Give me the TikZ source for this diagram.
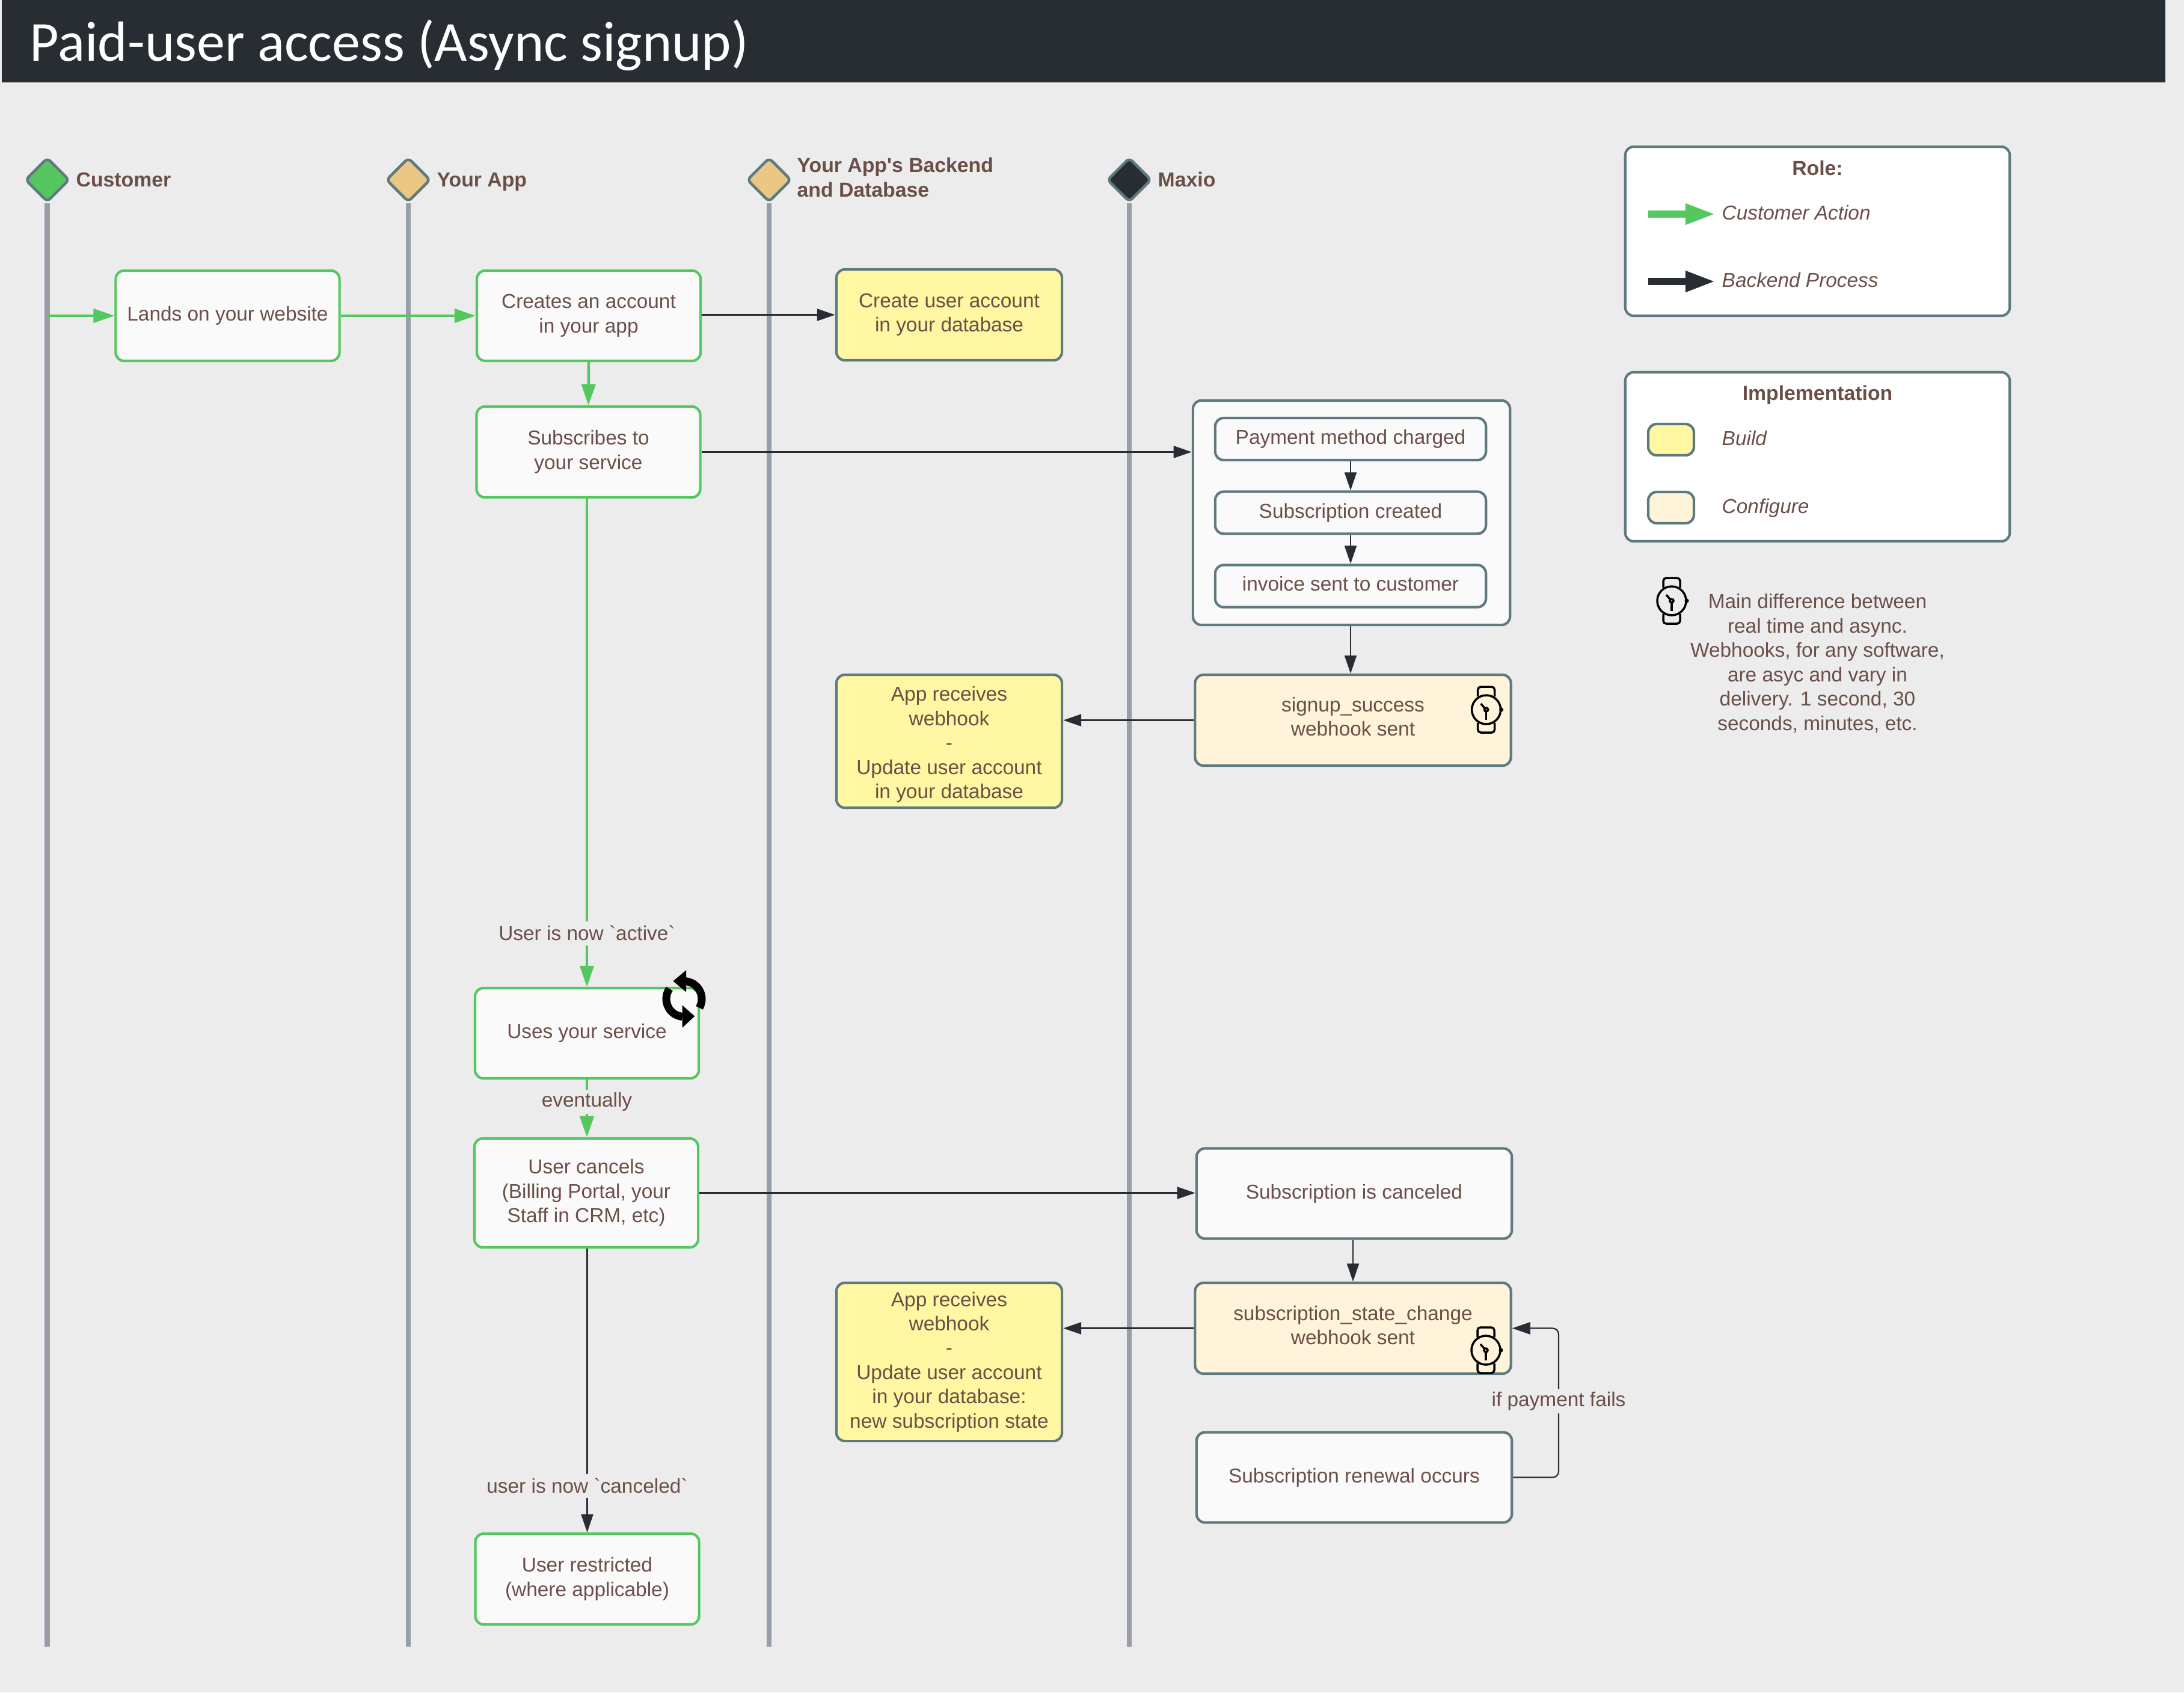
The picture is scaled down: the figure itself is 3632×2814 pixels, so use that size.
\documentclass[tikz,border=0pt]{standalone}
\usepackage{fontspec}
\setmainfont{Liberation Sans}
\newfontfamily\titlefont{Carlito}
\usetikzlibrary{arrows.meta,shapes.geometric}
\definecolor{pagegrey}{HTML}{ECECEC}
\definecolor{barblack}{HTML}{282C33}
\definecolor{inkbrown}{HTML}{6A4F47}
\definecolor{slateedge}{HTML}{5E7A7E}
\definecolor{actiongreen}{HTML}{54C75F}
\definecolor{lanegrey}{HTML}{979EA8}
\definecolor{appsand}{HTML}{EAC785}
\definecolor{buildyellow}{HTML}{FFF7A1}
\definecolor{configcream}{HTML}{FFF3D9}
\definecolor{paperwhite}{HTML}{FAFAFA}
\newcommand{\watchicon}[1]{
	\begin{scope}[shift={(#1)}]
		\draw [iconline,rounded corners=.05cm] (-14,22) -- (-14,38) -- (14,38) -- (14,22);
		\draw [iconline,rounded corners=.05cm] (-14,-22) -- (-14,-38) -- (14,-38) -- (14,-22);
		\draw [iconline] (0,0) circle (24);
		\fill [black] (25,0) circle (3.5);
		\draw [iconline] (0,0) circle (3);
		\draw [iconline] (0,-3) -- (0,-17);
		\draw [iconline] (-2,2) -- (-9,10);
	\end{scope}
}
\newcommand{\syncicon}[1]{
	\begin{scope}[shift={(#1)}]
		\draw [black,line width=.13cm] (-30:29.5) arc (-30:85:29.5);
		\fill [black] (-18,29.7) -- (3.7,48) -- (3.7,11.3);
		\draw [black,line width=.13cm] (145:29.5) arc (145:265:29.5);
		\fill [black] (17.7,-28.7) -- (-3,-10.3) -- (-3,-48);
	\end{scope}
}
\begin{document}
\begin{tikzpicture}[x=0.01cm,y=0.01cm]
	\tikzstyle{every node}+=[inner sep=0pt,text=inkbrown,font=\fontsize{9.5}{11.5}\selectfont,align=center]
	\tikzstyle{iconline}=[black,line width=.035cm]
	\tikzstyle{slatebox}=[draw=slateedge,line width=.042cm,rounded corners=.14cm,fill=paperwhite]
	\tikzstyle{actionbox}=[slatebox,draw=actiongreen,minimum width=3.72cm,minimum height=1.5cm]
	\tikzstyle{buildbox}=[slatebox,fill=buildyellow,minimum width=3.75cm]
	\tikzstyle{configbox}=[slatebox,fill=configcream,minimum width=5.25cm,minimum height=1.51cm]
	\tikzstyle{processbox}=[slatebox,minimum width=5.24cm,minimum height=1.5cm]
	\tikzstyle{stepbox}=[slatebox,minimum width=4.5cm,minimum height=.7cm]
	\tikzstyle{legendbox}=[slatebox,fill=white,minimum width=6.39cm,minimum height=2.81cm]
	\tikzstyle{swatch}=[slatebox,minimum width=.76cm,minimum height=.52cm]
	\tikzstyle{lanehead}=[diamond,aspect=1,draw=slateedge,line width=.045cm,rounded corners=.07cm,minimum width=.74cm,minimum height=.74cm]
	\tikzstyle{lanelabel}=[anchor=base west,font=\fontsize{9.6}{11.5}\selectfont\bfseries,align=left]
	\tikzstyle{legendlabel}=[anchor=west,font=\fontsize{9.5}{11.5}\selectfont\itshape]
	\tikzstyle{legendtitle}=[font=\fontsize{9.6}{11.5}\selectfont\bfseries]
	\tikzstyle{lane}=[lanegrey,line width=.085cm]
	\tikzstyle{action}=[actiongreen,line width=.045cm,-{Triangle[length=.35cm,width=.23cm]}]
	\tikzstyle{process}=[barblack,line width=.022cm,-{Triangle[length=.3cm,width=.2cm]}]
	\tikzstyle{edgelabel}=[fill=pagegrey,minimum height=.4cm]
	\fill [pagegrey] (0,0) rectangle (3632,-2814);
	\useasboundingbox (0,0) rectangle (3632,-2814);
	\fill [barblack] (3,0) rectangle (3601,-137);
	\node [anchor=west,text=white,font=\titlefont\fontsize{26.75}{30}\selectfont] (title) at (49,-75) {Paid-user access (Async signup)};

	\node [lanehead,fill=actiongreen] (customer) at (78.7,-299) {};
	\node [lanehead,fill=appsand] (yourapp) at (679,-299) {};
	\node [lanehead,fill=appsand] (backend) at (1279,-299) {};
	\node [lanehead,fill=barblack] (maxio) at (1878,-299) {};
	\coordinate (customerend) at (78.7,-2738);
	\coordinate (yourappend) at (679,-2738);
	\coordinate (backendend) at (1279,-2738);
	\coordinate (maxioend) at (1878,-2738);
	\draw [lane] (customer.south) -- (customerend);
	\draw [lane] (yourapp.south) -- (yourappend);
	\draw [lane] (backend.south) -- (backendend);
	\draw [lane] (maxio.south) -- (maxioend);
	\node [lanelabel] (customerlabel) at (126,-310) {Customer};
	\node [lanelabel] (yourapplabel) at (726,-310) {Your App};
	\node [lanelabel,anchor=west] (backendlabel) at (1325,-295) {Your App\textquotesingle s Backend\\and Database};
	\node [lanelabel] (maxiolabel) at (1925,-310) {Maxio};

	\node [actionbox] (lands) at (378.5,-525) {Lands on your website};
	\node [actionbox] (creates) at (979,-525) {Creates an account\\in your app};
	\node [actionbox,minimum height=1.51cm] (subscribes) at (978.5,-751.5) {Subscribes to\\your service};
	\node [actionbox] (uses) at (976,-1718) {Uses your service};
	\node [actionbox,minimum height=1.81cm] (cancels) at (975,-1983.5) {User cancels\\(Billing Portal, your\\Staff in CRM, etc)};
	\node [actionbox,minimum height=1.51cm] (restricted) at (976.5,-2625.5) {User restricted\\(where applicable)};

	\node [buildbox,minimum height=1.51cm] (createuser) at (1578.5,-523.5) {Create user account\\in your database};
	\node [buildbox,minimum height=2.21cm,text height=1.97cm] (webhookone) at (1578.5,-1232.5) {App receives\\webhook\\-\\Update user account\\in your database};
	\node [buildbox,minimum height=2.63cm] (webhooktwo) at (1578.5,-2264.5) {App receives\\webhook\\-\\Update user account\\in your database:\\new subscription state};

	\node [slatebox,minimum width=5.27cm,minimum height=3.73cm] (charging) at (2247.5,-852.5) {};
	\node [stepbox] (payment) at (2246,-730) {Payment method charged};
	\node [stepbox] (created) at (2246,-852.5) {Subscription created};
	\node [stepbox,text depth=.09cm] (invoice) at (2246,-974.5) {invoice sent to customer};
	\node [configbox,text depth=.12cm] (signup) at (2250,-1197.5) {signup\_success\\webhook sent};
	\node [processbox] (canceled) at (2252,-1984.5) {Subscription is canceled};
	\node [configbox,text depth=.1cm] (statechange) at (2250,-2208.5) {subscription\_state\_change\\webhook sent};
	\node [processbox] (renewal) at (2252,-2456.5) {Subscription renewal occurs};

	\draw [action] (customer.south |- lands.west) -- (lands.west);
	\draw [action] (lands.east) -- (creates.west);
	\draw [action] (creates.south) -- (subscribes.north);
	\draw [action] (subscribes.south -| uses.north) -- node [edgelabel,pos=.89] (activelabel) {User is now \textasciigrave active\textasciigrave} (uses.north);
	\draw [action] (uses.south) -- node [edgelabel,pos=.38] (eventuallylabel) {eventually} (uses.south |- cancels.north);
	\draw [process] (creates.east |- createuser.west) -- (createuser.west);
	\draw [process] (subscribes.east) -- (subscribes.east -| charging.west);
	\draw [process] (payment.south) -- (created.north);
	\draw [process] (created.south) -- (invoice.north);
	\draw [process] (created.south |- charging.south) -- (created.south |- signup.north);
	\draw [process] (signup.west) -- (signup.west -| webhookone.east);
	\draw [process] (cancels.east) -- (cancels.east -| canceled.west);
	\draw [process] (cancels.south -| restricted.north) -- node [edgelabel,pos=.836] (canceledlabel) {user is now \textasciigrave canceled\textasciigrave} (restricted.north);
	\draw [process] (statechange.north |- canceled.south) -- (statechange.north);
	\draw [process] (statechange.west) -- (statechange.west -| webhooktwo.east);
	\coordinate (loopturn) at (2592,-2330);
	\draw [process,rounded corners=.1cm] (renewal.east) -- (loopturn |- renewal.east) -- node [edgelabel,pos=.51] (failslabel) {if payment fails} (loopturn |- statechange.east) -- (statechange.east);

	\syncicon{1137.5,-1661}
	\watchicon{2471.6,-1180}
	\watchicon{2471,-2245}

	\node [legendbox] (rolebox) at (3022.5,-384.5) {};
	\node [legendtitle] (roletitle) at (3022.5,-279) {Role:};
	\coordinate (greenstart) at (2741,-356);
	\coordinate (greenend) at (2853,-356);
	\coordinate (darkstart) at (2741,-468);
	\coordinate (darkend) at (2853,-468);
	\draw [actiongreen,line width=.12cm,-{Triangle[length=.5cm,width=.32cm]}] (greenstart) -- (greenend);
	\draw [barblack,line width=.12cm,-{Triangle[length=.5cm,width=.32cm]}] (darkstart) -- (darkend);
	\node [legendlabel] (customeraction) at (2863,-354) {Customer Action};
	\node [legendlabel] (backendprocess) at (2863,-466) {Backend Process};

	\node [legendbox] (implbox) at (3022.5,-759.5) {};
	\node [legendtitle] (impltitle) at (3022.5,-657) {Implementation};
	\node [swatch,fill=buildyellow] (buildswatch) at (2779,-731) {};
	\node [swatch,fill=configcream] (configswatch) at (2779,-844) {};
	\node [legendlabel] (buildlabel) at (2863,-729) {Build};
	\node [legendlabel] (configlabel) at (2863,-845) {Configure};

	\watchicon{2780,-999}
	\node (asyncnote) at (3022.5,-1103) {Main difference between\\real time and async.\\Webhooks, for any software,\\are asyc and vary in\\delivery. 1 second, 30\\seconds, minutes, etc.};
\end{tikzpicture}
\end{document}
